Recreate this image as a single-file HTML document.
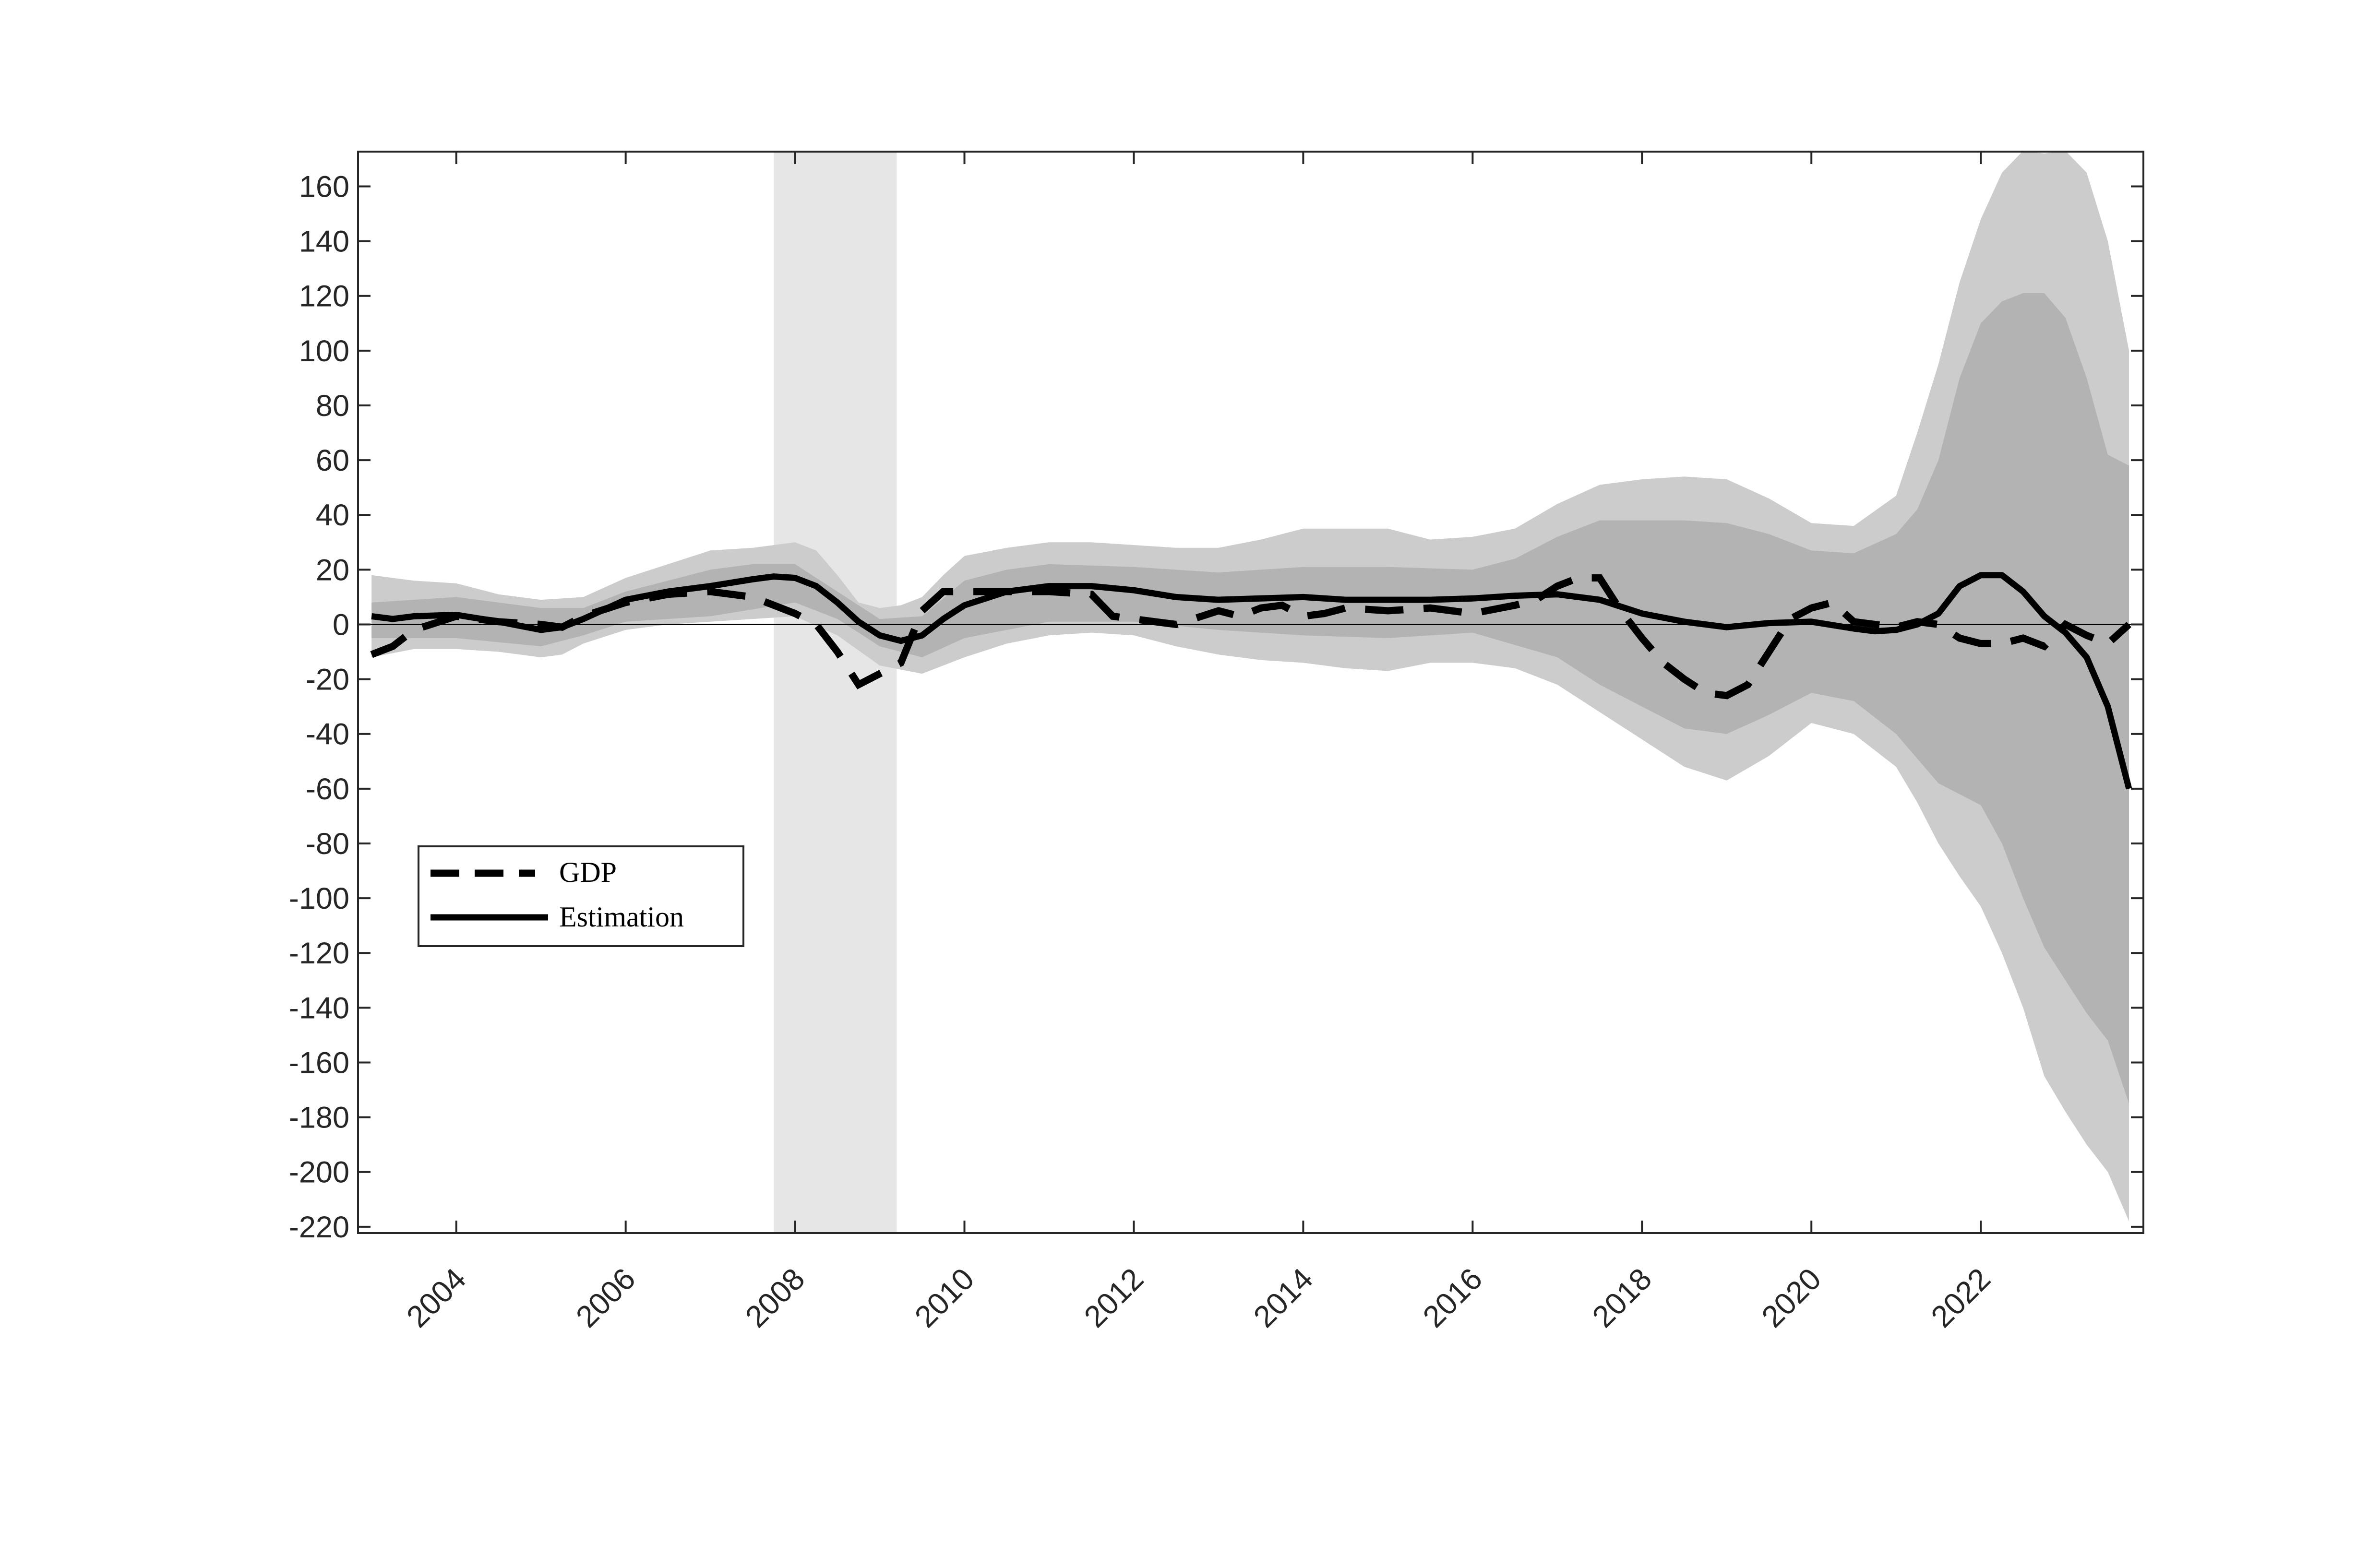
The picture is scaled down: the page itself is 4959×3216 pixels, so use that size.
<!DOCTYPE html>
<html><head><meta charset="utf-8">
<style>
html,body{margin:0;padding:0;background:#fff;}
svg{display:block;}
</style></head>
<body>
<svg id="chart" width="4959" height="3216" viewBox="0 0 4959 3216" xmlns="http://www.w3.org/2000/svg" style="font-family:'Liberation Sans',sans-serif">
<rect width="4959" height="3216" fill="#fff"/>
<defs><clipPath id="clip"><rect x="746" y="316" width="3720" height="2254"/></clipPath></defs>
<g id="plot" clip-path="url(#clip)"></g>
<g id="axes"></g>
</svg>
<script>
const recession = [2007.75, 2009.2];
const outerUpper = [[2003,18],[2003.5,16],[2004,15],[2004.5,11],[2005,9],[2005.5,10],[2006,17],[2006.5,22],[2007,27],[2007.5,28],[2008,30],[2008.25,27],[2008.5,18],[2008.75,8],[2009,6],[2009.25,7],[2009.5,10],[2009.75,18],[2010,25],[2010.5,28],[2011,30],[2011.5,30],[2012,29],[2012.5,28],[2013,28],[2013.5,31],[2014,35],[2014.5,35],[2015,35],[2015.5,31],[2016,32],[2016.5,35],[2017,44],[2017.5,51],[2018,53],[2018.5,54],[2019,53],[2019.5,46],[2020,37],[2020.5,36],[2021,47],[2021.25,70],[2021.5,95],[2021.75,125],[2022,148],[2022.25,165],[2022.5,173],[2022.75,172],[2023,173],[2023.25,165],[2023.5,140],[2023.75,100]];
const outerLower = [[2003,-12],[2003.5,-9],[2004,-9],[2004.5,-10],[2005,-12],[2005.25,-11],[2005.5,-7],[2006,-2],[2006.5,0],[2007,1],[2007.5,2],[2008,3],[2008.5,-4],[2009,-15],[2009.5,-18],[2010,-12],[2010.5,-7],[2011,-4],[2011.5,-3],[2012,-4],[2012.5,-8],[2013,-11],[2013.5,-13],[2014,-14],[2014.5,-16],[2015,-17],[2015.5,-14],[2016,-14],[2016.5,-16],[2017,-22],[2017.5,-32],[2018,-42],[2018.5,-52],[2019,-57],[2019.5,-48],[2020,-36],[2020.5,-40],[2021,-52],[2021.25,-65],[2021.5,-80],[2021.75,-92],[2022,-103],[2022.25,-120],[2022.5,-140],[2022.75,-165],[2023,-178],[2023.25,-190],[2023.5,-200],[2023.75,-218]];
const innerUpper = [[2003,8],[2004,10],[2005,6],[2005.5,6],[2006,12],[2007,20],[2007.5,22],[2008,22],[2008.5,12],[2009,2],[2009.5,3],[2010,16],[2010.5,20],[2011,22],[2012,21],[2013,19],[2014,21],[2015,21],[2016,20],[2016.5,24],[2017,32],[2017.5,38],[2018,38],[2018.5,38],[2019,37],[2019.5,33],[2020,27],[2020.5,26],[2021,33],[2021.25,42],[2021.5,60],[2021.75,90],[2022,110],[2022.25,118],[2022.5,121],[2022.75,121],[2023,112],[2023.25,90],[2023.5,62],[2023.75,58]];
const innerLower = [[2003,-5],[2004,-5],[2005,-8],[2005.5,-4],[2006,1],[2007,3],[2008,8],[2008.5,2],[2009,-8],[2009.5,-12],[2010,-5],[2011,1],[2012,1],[2013,-2],[2014,-4],[2015,-5],[2016,-3],[2017,-12],[2017.5,-22],[2018,-30],[2018.5,-38],[2019,-40],[2019.5,-33],[2020,-25],[2020.5,-28],[2021,-40],[2021.5,-58],[2022,-66],[2022.25,-80],[2022.5,-100],[2022.75,-118],[2023,-130],[2023.25,-142],[2023.5,-152],[2023.75,-175]];
const estimation = [[2003,3],[2003.25,2],[2003.5,3],[2004,3.5],[2004.5,1],[2005,-2],[2005.25,-1],[2005.5,2],[2006,9],[2006.5,12],[2007,14],[2007.5,16.5],[2007.75,17.5],[2008,17],[2008.25,14],[2008.5,8],[2008.75,1],[2009,-4],[2009.25,-6],[2009.5,-4],[2009.75,2],[2010,7],[2010.5,12],[2011,14],[2011.5,14],[2012,12.5],[2012.5,10],[2013,9],[2013.5,9.5],[2014,10],[2014.5,9],[2015,9],[2015.5,9],[2016,9.5],[2016.5,10.5],[2017,11],[2017.5,9],[2018,4],[2018.5,1],[2019,-1],[2019.5,0.5],[2020,1],[2020.5,-1.5],[2020.75,-2.5],[2021,-2],[2021.25,0],[2021.5,4],[2021.75,14],[2022,18],[2022.25,18],[2022.5,12],[2022.75,3],[2023,-3],[2023.25,-12],[2023.5,-30],[2023.75,-60]];
const gdp = [[2003,-11],[2003.25,-8],[2003.5,-2],[2004,3],[2004.5,1],[2005,0],[2005.25,-1],[2005.5,3],[2006,8],[2006.5,11],[2007,12],[2007.5,10],[2008,4],[2008.25,0],[2008.5,-10],[2008.75,-22],[2009,-18],[2009.25,-14],[2009.5,5],[2009.75,12],[2010,12],[2010.5,12],[2011,12],[2011.5,11],[2011.75,3],[2012,2],[2012.5,0],[2013,5],[2013.25,3],[2013.5,6],[2013.75,7],[2014,3],[2014.25,4],[2014.5,6],[2015,5],[2015.5,6],[2016,4],[2016.5,7],[2016.75,9],[2017,14],[2017.25,17],[2017.5,17],[2017.75,5],[2018,-5],[2018.25,-14],[2018.5,-20],[2018.75,-25],[2019,-26],[2019.25,-22],[2019.5,-10],[2019.75,2],[2020,6],[2020.25,8],[2020.5,1],[2020.75,0],[2021,-1],[2021.25,1],[2021.5,0],[2021.75,-5],[2022,-7],[2022.25,-7],[2022.5,-5],[2022.75,-8],[2023,0],[2023.25,-4],[2023.5,-7],[2023.75,0]];
const yTicks = [160,140,120,100,80,60,40,20,0,-20,-40,-60,-80,-100,-120,-140,-160,-180,-200,-220];
const xTicks = [2004,2006,2008,2010,2012,2014,2016,2018,2020,2022];

const L=746,R=4466,T=316,B=2570;
const X0=2002.84,X1=2023.92,Y0=-222.3,Y1=172.7;
const sx=v=>L+(v-X0)/(X1-X0)*(R-L);
const sy=v=>B-(v-Y0)/(Y1-Y0)*(B-T);
const NS="http://www.w3.org/2000/svg";
const plot=document.getElementById('plot'), axes=document.getElementById('axes');
function mk(tag,attrs,parent){const e=document.createElementNS(NS,tag);for(const k in attrs)e.setAttribute(k,attrs[k]);parent.appendChild(e);return e;}
const pts=a=>a.map(p=>sx(p[0]).toFixed(1)+','+sy(p[1]).toFixed(1));
function band(up,lo){return 'M'+pts(up).join('L')+'L'+pts(lo.slice().reverse()).join('L')+'Z';}

let e;
e=mk('rect',{x:sx(recession[0]),y:T,width:sx(recession[1])-sx(recession[0]),height:B-T,fill:'#e6e6e6'},plot);


e=mk('path',{d:band(outerUpper,outerLower),fill:'#cccccc'},plot);


e=mk('path',{d:band(innerUpper,innerLower),fill:'#b3b3b3'},plot);


e=mk('line',{x1:L,x2:R,y1:sy(0),y2:sy(0),stroke:'#000','stroke-width':3},plot);


e=mk('polyline',{points:pts(gdp).join(' '),fill:'none',stroke:'#000','stroke-width':15,'stroke-dasharray':'80,42'},plot);


e=mk('polyline',{points:pts(estimation).join(' '),fill:'none',stroke:'#000','stroke-width':13,'stroke-linejoin':'round'},plot);



e=mk('rect',{x:L,y:T,width:R-L,height:B-T,fill:'none',stroke:'#262626','stroke-width':4},axes);


yTicks.forEach(v=>{
  const y=sy(v);
  mk('line',{x1:L,x2:L+26,y1:y,y2:y,stroke:'#262626','stroke-width':4},axes);
  mk('line',{x1:R,x2:R-26,y1:y,y2:y,stroke:'#262626','stroke-width':4},axes);
  const t=mk('text',{x:L-18,y:y+22,'text-anchor':'end','font-size':63,fill:'#262626'},axes);
  t.textContent=v;
  
  
});
xTicks.forEach(v=>{
  const x=sx(v);
  mk('line',{x1:x,x2:x,y1:B,y2:B-26,stroke:'#262626','stroke-width':4},axes);
  mk('line',{x1:x,x2:x,y1:T,y2:T+26,stroke:'#262626','stroke-width':4},axes);
  const t=mk('text',{x:x+24,y:B+100,'text-anchor':'end','font-size':64,fill:'#262626',transform:`rotate(-45 ${x+24} ${B+100})`},axes);
  t.textContent=v;
  
  
});
</script>
<svg style="position:absolute;left:0;top:0" width="4959" height="3216">
<g>
<rect x="872" y="1764" width="677" height="208" fill="#fff" stroke="#262626" stroke-width="4"/>
<line x1="897" y1="1820" x2="1115" y2="1820" stroke="#000" stroke-width="15" stroke-dasharray="60,32"/>
<text x="1165" y="1838" style="font-family:'Liberation Serif',serif;font-size:60px">GDP</text>
<line x1="897" y1="1912" x2="1142" y2="1912" stroke="#000" stroke-width="13"/>
<text x="1165" y="1931" style="font-family:'Liberation Serif',serif;font-size:60px">Estimation</text>
</g>
</svg>
</body></html>
